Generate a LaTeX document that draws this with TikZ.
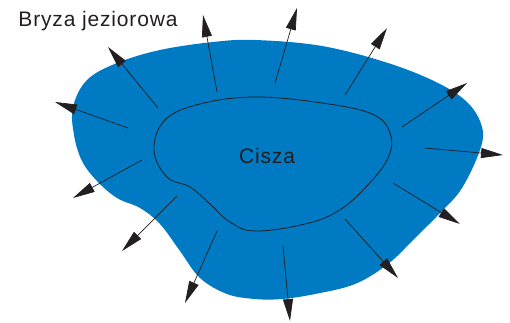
\documentclass[tikz,border=0pt]{standalone}
\usepackage{fontspec}
\setmainfont{Liberation Sans}
\usetikzlibrary{arrows.meta}
\definecolor{lakeblue}{RGB}{0,122,194}
\definecolor{ink}{RGB}{35,31,32}
\tikzset{
  wind/.style={draw=ink, line width=0.7pt, -{Triangle[length=22pt,width=10pt]}},
  label/.style={font=\fontsize{21}{24}\selectfont\addfontfeature{LetterSpace=4}, text=ink, inner sep=0pt},
}
\begin{document}
\begin{tikzpicture}[x=1pt,y=-1pt]
\useasboundingbox (0,0) rectangle (510,322);
% outer lake
\fill[lakeblue] plot[smooth cycle, tension=0.6] coordinates {
 (73,107) (87,80) (117,63) (160,50) (213,42) (255,40) (322,46) (388,63) (438,83) (468,103) (482,127) (480,150) (462,188) (442,211) (415,238) (388,264) (355,284) (315,294) (282,299) (255,299) (227,294) (200,278) (180,251) (160,224) (140,208) (117,198) (97,181) (82,161) (74,135)};
% inner calm zone
\draw[ink, line width=0.8pt] plot[smooth cycle, tension=0.65] coordinates {
 (154,150) (165,120) (200,104) (255,97) (322,103) (372,114) (390,133) (388,158) (365,188) (338,211) (305,224) (255,231) (230,222) (210,204) (190,187) (167,177)};
% arrows
\foreach \i/\tx/\ty/\hx/\hy in {
 1/128/128/55/102, 2/158/108/108/47, 3/217/92/203/15, 4/275/83/297/8,
 5/345/95/387/28, 6/402/127/467/83, 7/425/148/503/155, 8/393/183/460/224,
 9/345/219/398/278, 10/283/246/290/321, 11/217/231/185/303, 12/177/196/122/251,
 13/142/160/73/198}{
  \coordinate (t\i) at (\tx,\ty);
  \coordinate (h\i) at (\hx,\hy);
  \draw[wind] (t\i) -- (h\i);
}
\node[label] (bryza) at (98,21) {Bryza jeziorowa};
\node[label] (cisza) at (267,156) {Cisza};
\end{tikzpicture}
\end{document}
